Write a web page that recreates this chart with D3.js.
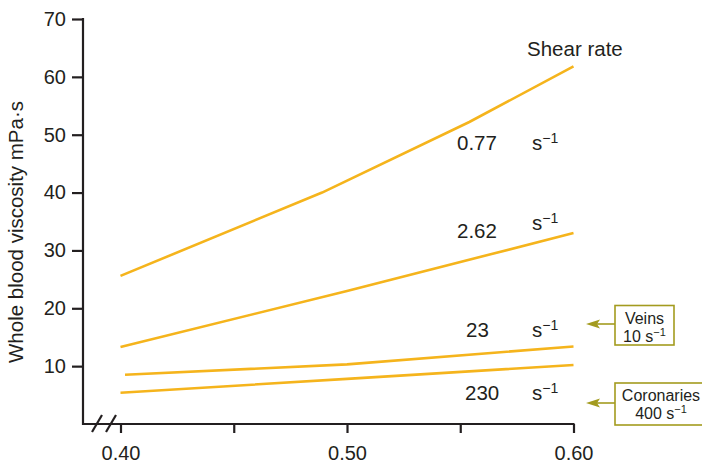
<!DOCTYPE html>
<html><head><meta charset="utf-8">
<script src="https://cdn.jsdelivr.net/npm/d3@7"></script>
<style>body{margin:0;background:#fff}svg{display:block;font-family:"Liberation Sans",Arial,sans-serif}</style>
</head><body><svg id="c" width="702" height="464"></svg>
<script>
const shear077 = [[0.40, 25.6], [0.489, 40.0], [0.554, 52.2], [0.60, 61.8]];
const shear262 = [[0.40, 13.3], [0.50, 23.0], [0.60, 33.0]];
const shear23 = [[0.402, 8.5], [0.50, 10.3], [0.60, 13.4]];
const shear230 = [[0.40, 5.4], [0.50, 7.8], [0.60, 10.2]];
const seriesLabels = ["0.77", "2.62", "23", "230"];
const xTicks = [0.40, 0.45, 0.50, 0.55, 0.60];
const xTickLabels = ["0.40", "", "0.50", "", "0.60"];
const yTicks = [10, 20, 30, 40, 50, 60, 70];

const svg = d3.select("#c");
const x = d3.scaleLinear().domain([0.40, 0.60]).range([120.5, 573.5]);
const y = d3.scaleLinear().domain([0, 70]).range([424, 19]);
const ink = "#231f20";
const gold = "#f5b41c";
const olive = "#a39b1f";
const FF = "Liberation Sans, Arial, sans-serif";

// axes
const yAxis = svg.append("g").attr("transform", "translate(83,0)")
  .call(d3.axisLeft(y).tickValues(yTicks).tickSize(11).tickPadding(6).tickSizeOuter(0));
yAxis.select(".domain").remove();
yAxis.selectAll("line").attr("stroke", ink).attr("stroke-width", 2.2);
yAxis.selectAll("text").attr("font-size", 20).attr("fill", ink).attr("font-family", FF);
svg.append("line").attr("x1", 83).attr("x2", 83).attr("y1", 18).attr("y2", 425).attr("stroke", ink).attr("stroke-width", 2.2);

const xAxis = svg.append("g").attr("transform", "translate(0,424)")
  .call(d3.axisBottom(x).tickValues(xTicks).tickFormat((d, i) => xTickLabels[i]).tickSize(9).tickPadding(13).tickSizeOuter(0));
xAxis.select(".domain").remove();
xAxis.selectAll("line").attr("stroke", ink).attr("stroke-width", 2.2);
xAxis.selectAll("text").attr("font-size", 20).attr("fill", ink).attr("font-family", FF);
svg.append("line").attr("x1", 82).attr("x2", 574.5).attr("y1", 424).attr("y2", 424).attr("stroke", ink).attr("stroke-width", 2.2);
// break marks
[[92, 102], [106, 116]].forEach(([a, b]) => {
  svg.append("line").attr("x1", a).attr("y1", 432).attr("x2", b).attr("y2", 415).attr("stroke", ink).attr("stroke-width", 2.2);
});

// y label
svg.append("text").attr("transform", "translate(23,232) rotate(-90)").attr("text-anchor", "middle")
  .attr("font-size", 20.5).attr("fill", ink).text("Whole blood viscosity mPa·s");

// lines
const line = d3.line().x(d => x(d[0])).y(d => y(d[1]));
[shear077, shear262, shear23, shear230].forEach(s => {
  svg.append("path").datum(s).attr("d", line).attr("fill", "none").attr("stroke", gold).attr("stroke-width", 2.6);
});

// labels
svg.append("text").attr("x", 527).attr("y", 56).attr("font-size", 20.5).attr("fill", ink).text("Shear rate");
const numPos = [[457, 150], [457, 238], [466, 337], [465, 400]];
const unitPos = [[532, 150], [532, 230], [532, 337], [532, 400]];
seriesLabels.forEach((lab, i) => {
  svg.append("text").attr("x", numPos[i][0]).attr("y", numPos[i][1]).attr("font-size", 20.5).attr("fill", ink).text(lab);
  const t = svg.append("text").attr("x", unitPos[i][0]).attr("y", unitPos[i][1]).attr("font-size", 20.5).attr("fill", ink);
  t.append("tspan").text("s");
  t.append("tspan").attr("font-size", 14).attr("dy", -7).text("\u2212");
  t.append("tspan").attr("font-size", 14).text("1");
});

// callout boxes
const boxes = [
  {x0: 615, y0: 305.5, w: 59, h: 39.5, ay: 324, cx: 644.5, l1: "Veins", l2: "10 s"},
  {x0: 615, y0: 383, w: 90, h: 42, ay: 403, cx: 661, l1: "Coronaries", l2: "400 s"}
];
boxes.forEach(b => {
  svg.append("rect").attr("x", b.x0).attr("y", b.y0).attr("width", b.w).attr("height", b.h)
    .attr("fill", "#fff").attr("stroke", olive).attr("stroke-width", 1.6);
  svg.append("line").attr("x1", b.x0).attr("x2", 594).attr("y1", b.ay).attr("y2", b.ay).attr("stroke", olive).attr("stroke-width", 1.6);
  svg.append("path").attr("d", `M586,${b.ay} L600,${b.ay - 4.5} L597,${b.ay} L600,${b.ay + 4.5} Z`).attr("fill", olive);
  svg.append("text").attr("x", b.cx).attr("y", b.y0 + 18).attr("text-anchor", "middle").attr("font-size", 16).attr("fill", ink).text(b.l1);
  const t = svg.append("text").attr("x", b.cx).attr("y", b.y0 + 36).attr("text-anchor", "middle").attr("font-size", 16).attr("fill", ink);
  t.append("tspan").text(b.l2);
  t.append("tspan").attr("font-size", 11).attr("dy", -6).text("\u22121");
});
</script></body></html>
